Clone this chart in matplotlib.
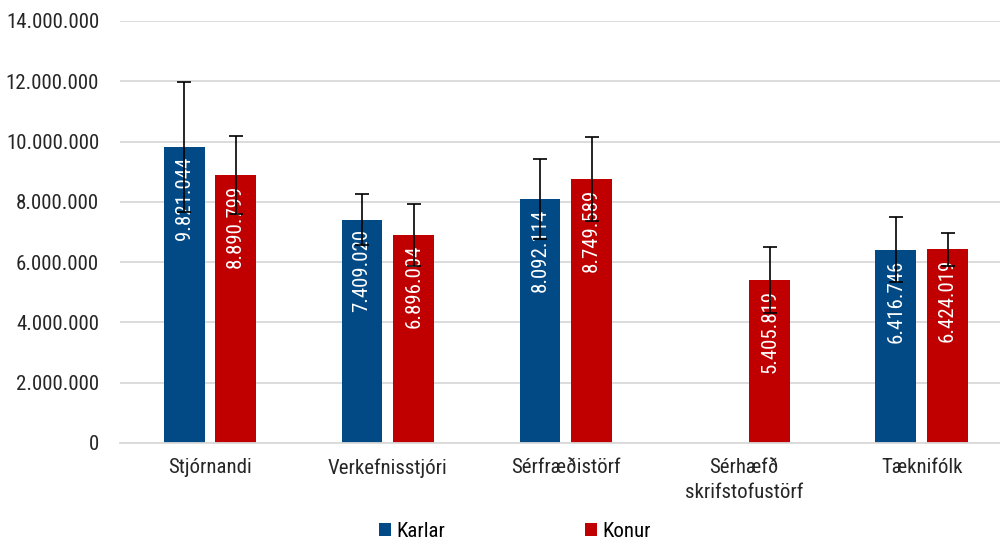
import numpy as np
import matplotlib
matplotlib.use("Agg")
import matplotlib.pyplot as plt
from matplotlib import font_manager

categories = ["Stjórnandi", "Verkefnisstjóri", "Sérfræðistörf",
              "Sérhæfð\nskrifstofustörf", "Tæknifólk"]
karlar = [9821044, 7409020, 8092114, np.nan, 6416746]
konur = [8890799, 6896004, 8749589, 5405819, 6424019]
karlar_err = [2160000, 850000, 1330000, np.nan, 1080000]
konur_err = [1300000, 1030000, 1400000, 1090000, 550000]
yticks = [0, 2000000, 4000000, 6000000, 8000000, 10000000, 12000000, 14000000]

names = {f.name for f in font_manager.fontManager.ttflist}
preferred = ["Arial Narrow", "Liberation Sans Narrow", "Roboto Condensed",
             "PT Sans Narrow", "Archivo Narrow", "Liberation Sans"]
family = next(n for n in preferred if n in names)
plt.rcParams["font.family"] = [family, "DejaVu Sans"]

BLUE = "#014a86"
RED = "#c00000"
TEXT = "#262626"


def fmt(v):
    return f"{int(round(v)):,}".replace(",", ".")


fig = plt.figure(figsize=(10, 5.42), dpi=100)
ax = fig.add_axes([0.12, 0.1827, 0.88, 0.7786])

x = np.arange(len(categories))
w = 0.23
off = 0.145

b1 = ax.bar(x - off, karlar, w, color=BLUE, label="Karlar", zorder=2)
b2 = ax.bar(x + off, konur, w, color=RED, label="Konur", zorder=2)

for xs, vals in ((x - off, karlar), (x + off, konur)):
    for xi, v in zip(xs, vals):
        if np.isnan(v):
            continue
        ax.annotate(fmt(v), (xi, v), xytext=(0, -7), textcoords="offset points",
                    rotation=90, ha="center", va="top", color="white",
                    fontsize=15, zorder=3)

ax.errorbar(x - off, karlar, yerr=karlar_err, fmt="none", ecolor="black",
            elinewidth=1.2, capsize=5, capthick=1.2, zorder=4)
ax.errorbar(x + off, konur, yerr=konur_err, fmt="none", ecolor="black",
            elinewidth=1.2, capsize=5, capthick=1.2, zorder=4)

ax.set_ylim(0, 14000000)
ax.set_xlim(-0.505, 4.44)
ax.set_yticks(yticks)
ax.set_yticklabels([fmt(t) for t in yticks], fontsize=15, color=TEXT)
ax.set_xticks(x)
ax.set_xticklabels(categories, fontsize=15, color=TEXT, linespacing=1.4)
ax.tick_params(axis="y", length=0, pad=15)
ax.tick_params(axis="x", length=0, pad=11)

ax.grid(axis="y", color="#d9d9d9", linewidth=1.3, zorder=0)
ax.set_axisbelow(True)
for s in ("top", "right", "left"):
    ax.spines[s].set_visible(False)
ax.spines["bottom"].set_color("#d9d9d9")
ax.spines["bottom"].set_linewidth(1.3)

fig.legend(handles=[b1, b2], labels=["Karlar", "Konur"], loc="center",
           bbox_to_anchor=(0.515, 0.02), ncol=2, frameon=False,
           fontsize=15, handlelength=0.6, handleheight=0.6,
           handletextpad=0.25, columnspacing=6.7)

fig.savefig("out.png", dpi=100)
